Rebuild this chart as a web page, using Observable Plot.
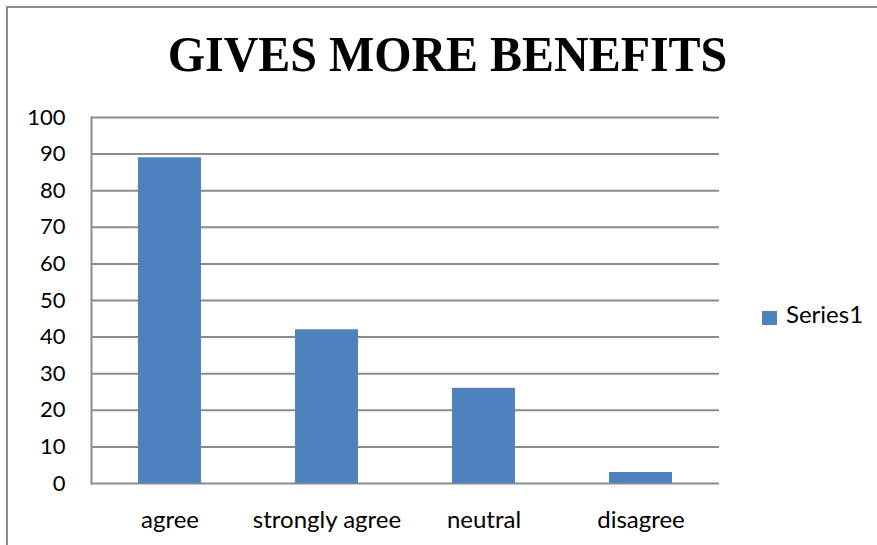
<!DOCTYPE html>
<html>
<head>
<meta charset="utf-8">
<script src="https://cdn.jsdelivr.net/npm/d3@7"></script>
<script src="https://cdn.jsdelivr.net/npm/@observablehq/plot@0.6"></script>
<style>
  html, body { margin: 0; padding: 0; background: #fff; }
  #wrap { position: relative; width: 877px; height: 545px; overflow: hidden; background: #fff; }
  #frame { position: absolute; left: 6px; top: 6px; width: 900px; height: 600px; border-top: 2px solid #8c8c8c; border-left: 2px solid #8c8c8c; box-sizing: border-box; }
  #title { position: absolute; left: 9px; top: 29px; width: 877px; text-align: center; font-family: "Liberation Serif", "Times New Roman", serif; font-weight: bold; font-size: 51px; line-height: 51px; color: #000; transform: scaleX(0.94); transform-origin: 438.5px 0; white-space: nowrap; }
  #chart { position: absolute; left: 0; top: 95px; }
  #legend-sw { position: absolute; left: 762px; top: 311px; width: 15px; height: 14px; background: #4f81bd; }
  #legend-tx { position: absolute; left: 786px; top: 302px; font-family: Lato, "Open Sans", sans-serif; font-size: 24px; line-height: 24px; color: #000; white-space: nowrap; }
</style>
</head>
<body>
<div id="wrap">
  <div id="frame"></div>
  <div id="title">GIVES MORE BENEFITS</div>
  <div id="chart"></div>
  <div id="legend-sw"></div>
  <div id="legend-tx"></div>
</div>
<script>
const categories = ["agree", "strongly agree", "neutral", "disagree"];
const values = [89, 42, 26, 3];
const yTicks = [0, 10, 20, 30, 40, 50, 60, 70, 80, 90, 100];
const seriesName = "Series1";

document.getElementById("legend-tx").textContent = seriesName;

const data = categories.map((c, i) => ({category: c, value: values[i]}));

const plot = Plot.plot({
  width: 877,
  height: 450,
  marginLeft: 91,
  marginRight: 158,
  marginTop: 22,
  marginBottom: 62,
  style: {fontFamily: "Lato, 'Open Sans', sans-serif", color: "#000", background: "transparent", overflow: "visible"},
  x: {domain: categories, paddingInner: 0.6, paddingOuter: 0.3, label: null},
  y: {domain: [0, 100], ticks: yTicks, label: null},
  marks: [
    Plot.ruleY(yTicks, {stroke: "#8c8c8c", strokeWidth: 2, strokeOpacity: 1}),
    Plot.frame({anchor: "left", stroke: "#8c8c8c", strokeWidth: 2, strokeOpacity: 1}),
    Plot.barY(data, {x: "category", y: "value", fill: "#4f81bd"}),
    Plot.axisX({tickSize: 0, tickPadding: 27, fontSize: 24, label: null}),
    Plot.axisY({ticks: yTicks, tickSize: 0, tickPadding: 26, fontSize: 22, label: null})
  ]
});
document.getElementById("chart").appendChild(plot);
</script>
</body>
</html>
